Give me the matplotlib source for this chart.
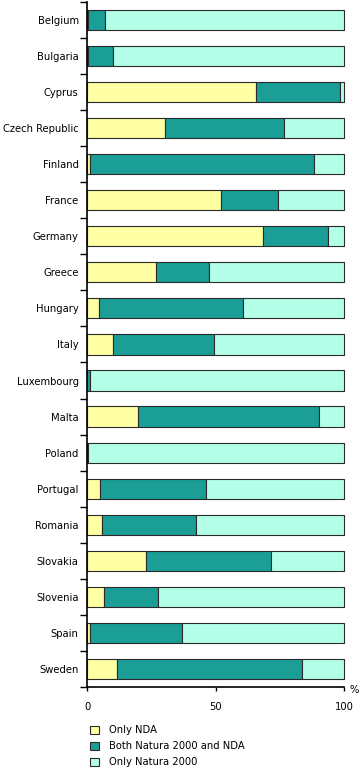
import matplotlib
matplotlib.use("Agg")
import matplotlib.pyplot as plt
import numpy as np

# Share of area (%) per country
countries = ["Belgium", "Bulgaria", "Cyprus", "Czech Republic", "Finland", "France",
             "Germany", "Greece", "Hungary", "Italy", "Luxembourg", "Malta", "Poland",
             "Portugal", "Romania", "Slovakia", "Slovenia", "Spain", "Sweden"]
only_nda = [0.3, 0.3, 65.7, 30.4, 1.0, 52.2, 68.6, 26.8, 4.5, 10.0, 0.0, 19.7, 0.0,
            4.9, 6.0, 22.9, 6.5, 1.0, 11.6]
both = [6.7, 9.7, 32.7, 46.4, 87.4, 22.2, 25.3, 20.7, 56.3, 39.5, 1.0, 70.7, 0.3,
        41.5, 36.6, 48.8, 21.3, 36.0, 72.2]
only_natura = [100 - a - b for a, b in zip(only_nda, both)]

series_labels = ["Only NDA", "Both Natura 2000 and NDA", "Only Natura 2000"]
colors = ["#FFFFA3", "#1A9E96", "#B3FFE8"]

fig = plt.figure(figsize=(3.61, 7.68), dpi=100)
ax = fig.add_axes([0.241, 0.1055, 0.712, 0.892])

y = np.arange(len(countries))
left = np.zeros(len(countries))
handles = []
for vals, lab, col in zip([only_nda, both, only_natura], series_labels, colors):
    h = ax.barh(y, vals, left=left, height=0.56, color=col, edgecolor="#2a2a2a",
                linewidth=0.8, label=lab, clip_on=False)
    handles.append(h)
    left += np.array(vals)

ax.set_ylim(len(countries) - 0.5, -0.5)
ax.set_xlim(0, 100)

# category labels centred, tick marks between categories
ax.set_yticks(y)
ax.set_yticklabels(countries, fontsize=7.2)
ax.tick_params(axis="y", length=0, pad=6)
ax.set_yticks(np.arange(-0.5, len(countries)), minor=True)
ax.tick_params(axis="y", which="minor", length=5, width=1, direction="out")

ax.set_xticks([0, 50, 100])
ax.tick_params(axis="x", length=3, width=1, labelsize=7.2, pad=8)

for s in ["top", "right"]:
    ax.spines[s].set_visible(False)
ax.spines["left"].set_linewidth(1.2)
ax.spines["bottom"].set_linewidth(1.2)

ax.text(1.02, -0.005, "%", transform=ax.transAxes, fontsize=7.2, va="center", ha="left")

fig.legend(handles=handles, labels=series_labels, loc="upper left",
           bbox_to_anchor=(0.237, 0.061), frameon=False, fontsize=7.2,
           handlelength=0.9, handleheight=0.9, handletextpad=1.0, labelspacing=0.6,
           borderaxespad=0)

fig.savefig("out.png", dpi=100)
